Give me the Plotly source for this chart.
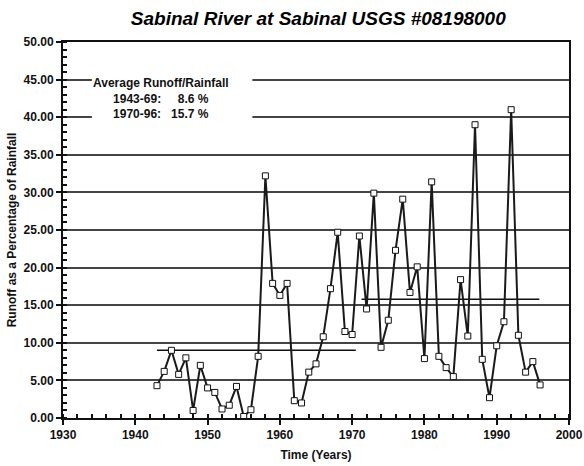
import plotly.graph_objects as go

# Annual runoff as percentage of rainfall, Sabinal River
years = list(range(1943, 1997))
runoff_pct = [
    4.3, 6.2, 9.0, 5.8, 8.0, 1.0, 7.0, 4.0, 3.4, 1.2,
    1.7, 4.2, 0.2, 1.1, 8.2, 32.2, 17.9, 16.3, 17.9, 2.3,
    2.0, 6.1, 7.2, 10.8, 17.2, 24.7, 11.5, 11.1, 24.2, 14.5,
    29.9, 9.4, 13.0, 22.3, 29.1, 16.7, 20.1, 7.9, 31.4, 8.2,
    6.7, 5.5, 18.4, 10.9, 39.0, 7.8, 2.7, 9.6, 12.8, 41.0,
    11.0, 6.1, 7.5, 4.4,
]

# period average lines as drawn
avg1_x = [1943.0, 1970.5]
avg1_y = [9.0, 9.0]
avg2_x = [1971.3, 1995.9]
avg2_y = [15.8, 15.8]

FONT = "Liberation Sans, Arial, sans-serif"

fig = go.Figure()

for ax, ay in [(avg1_x, avg1_y), (avg2_x, avg2_y)]:
    fig.add_trace(go.Scatter(
        x=ax, y=ay, mode="lines",
        line=dict(color="#111111", width=1.5),
        showlegend=False, hoverinfo="skip",
    ))

fig.add_trace(go.Scatter(
    x=years, y=runoff_pct, mode="lines+markers",
    line=dict(color="#1a1a1a", width=2),
    marker=dict(symbol="square", size=6, color="white",
                line=dict(color="#111111", width=1)),
    showlegend=False,
))

# white box behind the text, over the gridlines
fig.add_shape(type="rect", xref="x", yref="y",
              x0=1934.0, x1=1956.2, y0=38.6, y1=46.3,
              fillcolor="white", line=dict(width=0), layer="between")

fig.add_annotation(
    x=1943.6, y=42.5, xref="x", yref="y",
    text="Average Runoff/Rainfall<br>1943-69:     8.6 %<br>1970-96:   15.7 %",
    showarrow=False, align="center",
    font=dict(family=FONT, size=12, color="#111111", weight="bold"),
)

fig.update_layout(
    width=584, height=466,
    margin=dict(l=63, r=15, t=42, b=48),
    paper_bgcolor="white", plot_bgcolor="white",
    font=dict(family=FONT, size=12, color="#111111"),
    title=dict(
        text="Sabinal River at Sabinal USGS #08198000",
        x=0.545, xanchor="center", y=0.961, yanchor="middle",
        font=dict(family=FONT, size=19, color="black", weight="bold", style="italic"),
    ),
)

fig.update_xaxes(
    range=[1930, 2000], dtick=10, tick0=1930, automargin=False,
    showgrid=False, zeroline=False,
    showline=True, linecolor="#111111", linewidth=2, mirror=True,
    ticks="outside", ticklen=5, tickwidth=1.5, tickcolor="#111111",
    minor=dict(dtick=2, ticks="inside", ticklen=4, tickcolor="#111111", showgrid=False),
    tickfont=dict(family=FONT, size=12, weight="bold"),
    title=dict(text="Time (Years)", standoff=9,
               font=dict(family=FONT, size=12, weight="bold")),
)

fig.update_yaxes(
    range=[0, 50], dtick=5, tickformat=".2f", automargin=False,
    showgrid=True, gridcolor="#444444", gridwidth=1.5, zeroline=False,
    showline=True, linecolor="#111111", linewidth=2, mirror=True,
    ticks="outside", ticklen=5, tickwidth=1.5, tickcolor="#111111",
    minor=dict(dtick=1, ticks="inside", ticklen=4, tickcolor="#111111", showgrid=False),
    tickfont=dict(family=FONT, size=12, weight="bold"),
    title=dict(text="Runoff as a Percentage of Rainfall", standoff=4,
               font=dict(family=FONT, size=12, weight="bold")),
)

# drop the default 8px page margin so the figure fills the window exactly
fig.write_html(
    "out.html",
    config={"displayModeBar": False},
    post_script="document.body.style.margin='0';document.body.style.overflow='hidden';",
)
